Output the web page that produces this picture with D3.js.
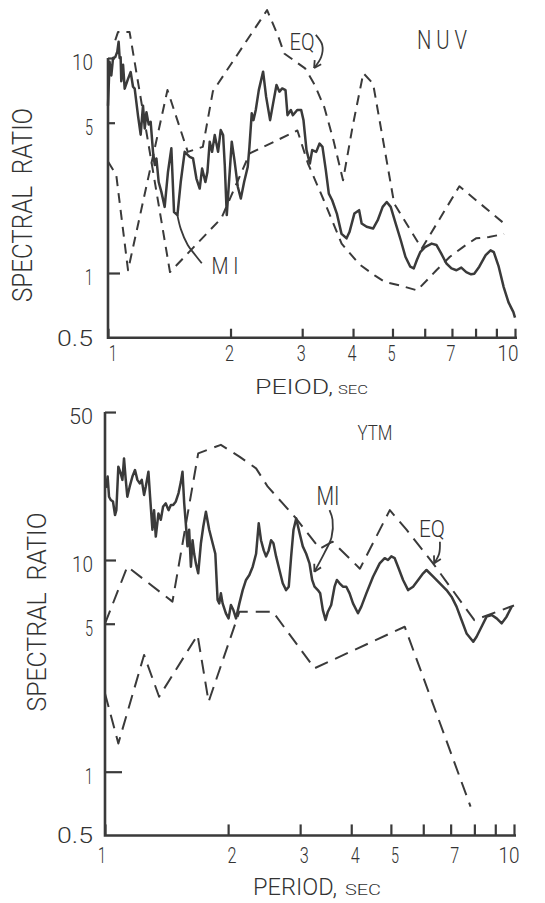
<!DOCTYPE html>
<html>
<head>
<meta charset="utf-8">
<script src="https://cdn.jsdelivr.net/npm/d3@7"></script>
<style>
body{margin:0;background:#fff;}
svg text{font-family:Roboto,"DejaVu Sans",sans-serif;font-weight:300;fill:#333;}
</style>
</head>
<body>
<svg id="chart" width="545" height="903"></svg>
<script>
// period (sec), spectral ratio
var nuvMI = [[1.00,6.0],[1.009,9.6],[1.019,8.3],[1.029,10.0],[1.042,10.1],[1.054,10.7],[1.062,11.9],[1.068,10.0],[1.074,10.1],[1.078,7.8],[1.089,9.3],[1.099,7.2],[1.12,8.0],[1.137,8.6],[1.152,7.35],[1.163,7.2],[1.185,5.4],[1.203,4.4],[1.219,6.0],[1.231,4.7],[1.243,5.6],[1.259,4.9],[1.273,5.05],[1.29,3.66],[1.303,3.18],[1.315,3.41],[1.332,2.65],[1.352,2.39],[1.378,2.03],[1.404,2.95],[1.431,3.8],[1.453,1.92],[1.481,1.86],[1.509,2.65],[1.543,3.66],[1.588,3.47],[1.618,3.41],[1.649,2.75],[1.68,2.47],[1.703,3.06],[1.735,2.65],[1.755,2.95],[1.778,4.08],[1.802,3.66],[1.829,4.38],[1.864,3.66],[1.892,4.62],[1.918,4.38],[1.936,3.18],[1.958,1.86],[2.014,4.08],[2.045,3.35],[2.084,2.52],[2.12,2.22],[2.16,2.65],[2.205,3.12],[2.226,3.86],[2.255,5.53],[2.277,5.14],[2.307,5.73],[2.347,7.09],[2.405,8.64],[2.446,6.61],[2.502,5.14],[2.545,6.15],[2.594,7.49],[2.638,6.97],[2.679,7.22],[2.73,7.09],[2.761,5.42],[2.814,5.73],[2.846,5.42],[2.917,5.73],[2.983,5.73],[3.022,5.14],[3.074,3.73],[3.133,3.23],[3.175,3.73],[3.248,3.66],[3.31,4.0],[3.365,3.86],[3.429,3.01],[3.488,2.34],[3.555,2.18],[3.65,1.89],[3.748,1.52],[3.856,1.45],[3.92,1.55],[4.03,1.89],[4.14,1.96],[4.2,1.70],[4.32,1.64],[4.48,1.61],[4.60,1.76],[4.73,2.03],[4.84,2.14],[4.95,2.03],[5.09,1.70],[5.24,1.42],[5.38,1.19],[5.53,1.07],[5.64,1.05],[5.74,1.15],[5.85,1.25],[6.01,1.32],[6.24,1.37],[6.41,1.35],[6.59,1.23],[6.78,1.11],[6.98,1.05],[7.18,1.03],[7.38,1.06],[7.59,1.01],[7.80,0.986],[7.94,0.993],[8.17,1.07],[8.47,1.21],[8.71,1.275],[8.87,1.25],[9.12,1.07],[9.38,0.86],[9.64,0.73],[9.91,0.658],[10.0,0.62]];
var nuvEQ1 = [[1.0,3.3],[1.048,2.85],[1.12,1.03],[1.40,7.1],[1.57,3.66],[1.71,3.86],[1.81,7.0],[2.46,16.7],[2.62,12.6],[2.71,10.5],[3.05,8.95],[3.22,7.5],[3.40,5.9],[3.58,4.15],[3.78,2.7],[3.99,4.8],[4.24,8.5],[4.48,7.6],[4.65,5.1],[5.05,2.1],[5.9,1.3],[7.3,2.53],[9.4,1.7]];
var nuvEQ2 = [[1.042,12.1],[1.058,13.2],[1.13,13.2],[1.42,1.01],[1.9,1.8],[2.23,3.6],[2.92,4.6],[3.10,3.23],[3.39,2.18],[3.75,1.37],[4.14,1.1],[4.52,0.975],[4.78,0.91],[5.19,0.877],[5.75,0.83],[6.41,1.03],[6.92,1.19],[7.45,1.32],[8.02,1.45],[8.63,1.47],[9.4,1.52]];

var ytmMI = [[1.0,22],[1.0076,22.2],[1.015,24.8],[1.023,19.9],[1.033,19.2],[1.046,18.9],[1.058,16.3],[1.066,17.2],[1.078,27.6],[1.092,25.7],[1.103,23.9],[1.113,30.2],[1.124,23.9],[1.134,19.9],[1.149,22.2],[1.167,24.8],[1.184,26.6],[1.2,23.9],[1.216,23.0],[1.23,23.9],[1.246,20.3],[1.258,22.2],[1.277,26.1],[1.289,19.9],[1.306,13.9],[1.318,17.2],[1.331,12.9],[1.351,16.6],[1.369,15.5],[1.387,17.9],[1.408,18.5],[1.43,17.2],[1.449,18.2],[1.468,18.2],[1.49,18.9],[1.513,20.7],[1.533,23.4],[1.547,26.1],[1.562,18.5],[1.576,14.9],[1.591,11.6],[1.606,13.9],[1.622,9.3],[1.637,12.4],[1.652,10.7],[1.668,9.64],[1.69,8.65],[1.716,12.0],[1.739,14.4],[1.765,16.9],[1.798,13.9],[1.833,12.0],[1.861,10.7],[1.885,6.47],[1.903,6.24],[1.92,6.96],[1.939,6.24],[1.975,5.6],[2.005,5.3],[2.032,6.13],[2.06,5.8],[2.091,5.3],[2.131,6.24],[2.171,7.21],[2.212,8.05],[2.254,8.5],[2.297,9.3],[2.341,10.7],[2.376,14.9],[2.407,12.4],[2.444,11.1],[2.476,10.4],[2.513,11.1],[2.547,12.4],[2.581,12.0],[2.62,10.4],[2.67,8.97],[2.72,7.76],[2.772,7.21],[2.814,7.48],[2.852,10.4],[2.89,13.9],[2.934,15.7],[2.99,13.4],[3.045,11.6],[3.104,10.7],[3.162,9.64],[3.21,8.05],[3.253,7.48],[3.314,7.21],[3.358,6.96],[3.409,5.8],[3.461,5.21],[3.507,5.7],[3.573,6.13],[3.641,7.48],[3.69,8.05],[3.746,7.76],[3.817,7.48],[3.89,7.48],[3.963,6.96],[4.04,6.24],[4.155,5.6],[4.233,6.02],[4.355,6.96],[4.522,8.34],[4.695,9.64],[4.829,10.2],[4.92,10.0],[5.013,10.4],[5.108,10.2],[5.205,9.3],[5.355,8.05],[5.51,7.21],[5.666,7.48],[5.83,8.05],[5.996,8.65],[6.11,8.97],[6.345,8.34],[6.588,7.76],[6.839,7.21],[7.035,6.71],[7.236,6.02],[7.443,5.21],[7.656,4.5],[7.95,4.11],[8.1,4.34],[8.33,4.84],[8.57,5.4],[8.82,5.5],[9.07,5.3],[9.33,5.02],[9.59,5.4],[9.87,6.02]];
var ytmEQ1 = [[1.0,5.0],[1.134,9.3],[1.462,6.36],[1.69,31.9],[1.92,35],[2.131,30.8],[2.341,27.1],[2.5,22.2],[2.72,18.5],[2.934,15.7],[3.35,11.3],[3.6,12.2],[4.2,9.1],[4.97,17.2],[5.46,13.9],[6.34,9.64],[8.0,5.2],[10.0,6.1]];
var ytmEQ2 = [[1.0,2.34],[1.078,1.36],[1.246,3.56],[1.356,2.26],[1.684,4.42],[1.792,2.14],[2.131,5.7],[2.571,5.7],[3.253,3.08],[5.405,4.84],[7.83,0.684]];

// label leaders (period, ratio)
var nuvMIlead = [[1.481,1.86],[1.51,1.6],[1.57,1.35],[1.645,1.2],[1.70,1.11]];
var nuvEQlead = [[3.24,12.8],[3.36,11.5],[3.34,10.1],[3.21,8.98]];
var ytmMIlead = [[3.54,17.2],[3.60,15.5],[3.58,12.8],[3.44,10.8],[3.25,8.8]];
var ytmEQlead = [[6.59,12.2],[6.56,10.7],[6.38,9.64]];

var periodTicks = [1,2,3,4,5,6,7,8,9,10];
var periodLabels = [1,2,3,4,5,7,10];
var nuvRatioTicks = [0.5,1,5,10];
var ytmRatioTicks = [0.5,1,5,10,50];

var ink = '#3a3a3a';
var svg = d3.select('#chart');

function txt(g, s, x, y, size, len, anchor){
	var t = g.append('text').attr('x', x).attr('y', y)
		.style('font-size', size + 'px')
		.attr('text-anchor', anchor || 'middle')
		.text(s);
	if (len) t.attr('textLength', len).attr('lengthAdjust', 'spacingAndGlyphs');
	return t;
}

function digitLen(s){
	var w = {'1':8,'2':9,'3':9,'4':9,'5':8,'7':9,'10':21,'50':24,'0.5':36};
	return w[s];
}

function drawPanel(p){
	var x = d3.scaleLog().domain([1,10]).range(p.xr);
	var y = d3.scaleLog().domain([1,10]).range(p.yr);
	var g = svg.append('g');
	var line = d3.line().x(d => x(d[0])).y(d => y(d[1]));

	p.series.forEach(s => {
		g.append('path')
			.attr('d', line(s.data))
			.attr('fill', 'none')
			.attr('stroke', ink)
			.attr('stroke-width', s.w)
			.attr('stroke-dasharray', s.dash || null)
			.attr('stroke-linejoin', 'round');
	});

	// axes: ticks through d3.axis, lines drawn so the ends match
	var xb = y(0.5);
	var xAxis = d3.axisBottom(x).tickValues(periodTicks).tickSizeInner(-p.xtick).tickSizeOuter(0).tickFormat('');
	var gx = g.append('g').attr('transform', 'translate(0,' + xb + ')').call(xAxis);
	gx.select('.domain').remove();
	gx.selectAll('line').attr('stroke', ink).attr('stroke-width', 2.2);

	var yAxis = d3.axisLeft(y).tickValues(p.ratioTicks.filter(v => v > 0.5)).tickSizeOuter(0).tickFormat('');
	var gy = g.append('g').attr('transform', 'translate(' + x(1) + ',0)').call(yAxis);
	gy.select('.domain').remove();
	gy.selectAll('line').attr('x2', d => p.ytick[d]).attr('stroke', ink).attr('stroke-width', 2.2);

	g.append('path')
		.attr('d', 'M' + x(1) + ',' + y(p.yTop) + 'V' + xb + 'H' + (x(10) + 2))
		.attr('fill', 'none').attr('stroke', ink).attr('stroke-width', 2.6);

	periodLabels.forEach(v => {
		var dx = p.xlabDx[v] !== undefined ? p.xlabDx[v] : p.xlabDx.other;
		txt(g, String(v), x(v) + dx, p.xlabY, 22, digitLen(String(v)));
	});
	p.ratioTicks.forEach(v => {
		var s = String(v);
		txt(g, s, 93, y(v) + (v == 0.5 ? 8 : 12), 22, digitLen(s), 'end');
	});

	// leaders
	var curve = d3.line().x(d => x(d[0])).y(d => y(d[1])).curve(d3.curveCatmullRom);
	p.leaders.forEach(l => {
		g.append('path').attr('d', curve(l.data)).attr('fill', 'none')
			.attr('stroke', ink).attr('stroke-width', 1.8);
		if (l.arrow){
			var a = l.data[l.data.length - 2], b = l.data[l.data.length - 1];
			var ax = x(a[0]), ay = y(a[1]), bx = x(b[0]), by = y(b[1]);
			var ang = Math.atan2(by - ay, bx - ax);
			[0.5, -0.5].forEach(da => {
				g.append('line').attr('x1', bx).attr('y1', by)
					.attr('x2', bx - 8 * Math.cos(ang + da)).attr('y2', by - 8 * Math.sin(ang + da))
					.attr('stroke', ink).attr('stroke-width', 1.8);
			});
		}
	});
	return g;
}

var gTop = drawPanel({
	xr: [108, 515], yr: [273, 58], yTop: 10,
	ratioTicks: nuvRatioTicks, ytick: {1: 12, 5: 7, 10: 7}, xtick: 9,
	xlabY: 361, xlabDx: {1: 5, 10: -7, other: -1},
	series: [
		{data: nuvEQ1, w: 2, dash: '10,7'},
		{data: nuvEQ2, w: 2, dash: '10,7'},
		{data: nuvMI, w: 2.5}
	],
	leaders: [{data: nuvMIlead}, {data: nuvEQlead, arrow: true}]
});

var gBot = drawPanel({
	xr: [105, 514], yr: [771.7, 560], yTop: 50,
	ratioTicks: ytmRatioTicks, ytick: {1: 17, 5: 10, 10: 11, 50: 11}, xtick: 11,
	xlabY: 863, xlabDx: {1: -3, 10: -5, other: 4},
	series: [
		{data: ytmEQ1, w: 2, dash: '14,8'},
		{data: ytmEQ2, w: 2, dash: '14,8'},
		{data: ytmMI, w: 2.5}
	],
	leaders: [{data: ytmMIlead, arrow: true}, {data: ytmEQlead, arrow: true}]
});

// titles and labels
txt(gTop, 'SPECTRAL  RATIO', 0, 0, 27, 194).attr('transform', 'translate(32,205) rotate(-90)').style('white-space', 'pre');
txt(gBot, 'SPECTRAL  RATIO', 0, 0, 26, 199).attr('transform', 'translate(46,612) rotate(-90)').style('white-space', 'pre');

txt(gTop, 'PEIOD,', 255, 394, 20, 78, 'start');
txt(gTop, 'SEC', 338, 394, 12, 30, 'start');
txt(gBot, 'PERIOD,', 253, 895, 24, 84, 'start');
txt(gBot, 'SEC', 345, 895, 14, 36, 'start');

txt(gTop, 'N U V', 442, 49, 25, 50).style('white-space', 'pre');
txt(gTop, 'EQ', 302, 50, 24, 25);
txt(gTop, 'M I', 225, 274, 23, 27).style('white-space', 'pre');

txt(gBot, 'YTM', 375, 440, 21, 35);
txt(gBot, 'MI', 328, 505, 25, 23);
txt(gBot, 'EQ', 432, 537, 23, 26);
</script>
</body>
</html>
